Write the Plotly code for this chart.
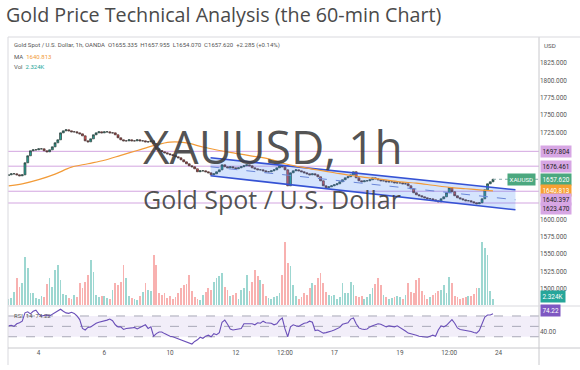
import plotly.graph_objects as go

# ---------------- data ----------------
hours = list(range(2, 357, 2))  # trading hours since Oct 3 00:00 (weekends removed)

close = [
    1664.0, 1665.5, 1665.5, 1664.0, 1662.6, 1664.0, 1681.3, 1691.4, 1698.6, 1700.0,
    1700.0, 1701.4, 1701.4, 1698.6, 1697.1, 1700.0, 1704.3, 1710.1, 1714.4, 1724.4,
    1727.3, 1728.8, 1727.3, 1725.9, 1725.9, 1724.4, 1723.0, 1720.1, 1712.9, 1711.5,
    1715.8, 1721.6, 1724.4, 1725.9, 1724.4, 1725.9, 1725.9, 1724.4, 1724.4, 1721.6,
    1717.3, 1714.4, 1712.9, 1712.9, 1714.4, 1712.9, 1712.9, 1714.4, 1712.9, 1712.9,
    1711.5, 1711.5, 1712.9, 1709.0, 1701.4, 1699.0, 1697.1, 1695.7, 1694.2, 1693.0,
    1692.0, 1690.0, 1688.5, 1685.6, 1682.7, 1679.9, 1677.0, 1675.6, 1672.7, 1668.4,
    1669.8, 1669.8, 1668.4, 1666.9, 1664.0, 1665.5, 1668.4, 1671.2, 1678.4, 1675.6,
    1674.1, 1675.6, 1674.1, 1672.7, 1674.1, 1675.6, 1677.0, 1678.4, 1677.0, 1674.1,
    1672.7, 1671.2, 1671.2, 1669.8, 1668.4, 1668.4, 1669.8, 1671.2, 1674.1, 1677.0,
    1675.6, 1671.2, 1648.2, 1666.9, 1669.8, 1671.2, 1669.8, 1668.4, 1666.9, 1665.5,
    1664.0, 1665.5, 1664.0, 1661.2, 1655.4, 1648.2, 1645.4, 1646.8, 1648.2, 1649.7,
    1651.1, 1654.0, 1656.9, 1659.7, 1661.2, 1664.0, 1668.4, 1659.7, 1655.4, 1654.0,
    1655.4, 1655.4, 1656.9, 1659.7, 1658.3, 1656.9, 1655.4, 1655.4, 1654.0, 1654.0,
    1654.0, 1652.5, 1652.5, 1652.5, 1651.1, 1651.1, 1648.2, 1643.9, 1638.2, 1635.3,
    1633.9, 1632.4, 1631.0, 1629.5, 1629.5, 1628.1, 1626.7, 1625.2, 1629.5, 1632.4,
    1638.2, 1645.4, 1639.6, 1633.9, 1631.0, 1629.5, 1628.1, 1626.7, 1626.7, 1625.2,
    1623.8, 1622.3, 1623.8, 1629.5, 1642.5, 1651.1, 1654.0, 1657.6,
]
first_open = 1663.0

volume_k = [
    2.4, 2.8, 5.2, 10.8, 7.2, 8.8, 19.2, 14.8, 4.8, 4.8,
    2.8, 2.4, 3.6, 3.2, 8.4, 10.8, 7.2, 14.0, 16.0, 10.0,
    4.4, 4.0, 2.8, 2.4, 4.0, 3.2, 8.8, 6.8, 9.2, 12.0,
    18.0, 13.2, 4.0, 3.2, 3.6, 3.6, 2.8, 2.4, 6.0, 8.8,
    8.0, 9.2, 16.0, 10.8, 3.6, 2.8, 2.4, 2.0, 3.6, 5.2,
    8.8, 6.0, 5.6, 20.0, 16.0, 4.8, 4.0, 4.8, 2.8, 3.6,
    2.4, 3.2, 4.8, 6.8, 8.0, 8.4, 12.0, 5.6, 3.2, 2.4,
    2.0, 4.0, 5.2, 6.8, 6.0, 9.2, 10.8, 11.6, 12.8, 7.2,
    6.0, 3.6, 4.0, 4.8, 2.4, 6.0, 6.8, 12.0, 5.6, 9.2,
    14.0, 11.6, 10.0, 8.4, 3.6, 2.8, 2.4, 3.2, 3.6, 4.8,
    12.0, 25.2, 16.8, 15.6, 8.0, 3.6, 2.4, 3.2, 4.8, 4.0,
    6.8, 8.8, 8.0, 10.8, 12.8, 8.8, 5.2, 4.0, 3.6, 4.0,
    2.4, 3.2, 8.8, 4.8, 4.8, 9.2, 8.0, 3.6, 3.2, 3.6,
    2.4, 3.2, 4.4, 6.8, 8.4, 10.8, 8.0, 4.0, 3.2, 2.4,
    2.8, 3.2, 3.6, 3.2, 2.4, 4.0, 8.8, 5.2, 4.8, 10.0,
    10.8, 5.6, 4.0, 2.4, 3.2, 4.0, 4.8, 5.6, 6.0, 8.0,
    4.8, 11.2, 8.8, 3.6, 3.2, 2.4, 2.8, 3.2, 3.6, 3.6,
    4.4, 6.8, 6.8, 25.2, 22.8, 20.0, 5.6, 2.324,
]

rsi = [
    51, 52, 50, 55, 57, 60, 76, 78, 74, 79,
    81, 74, 70, 71, 72, 70, 73, 76, 79, 83,
    79, 76, 75, 77, 75, 70, 63, 46, 43, 48,
    49, 53, 56, 58, 59, 61, 62, 64, 61, 53,
    49, 49, 44, 46, 46, 47, 48, 45, 48, 51,
    53, 46, 49, 31, 36, 39, 39, 36, 33, 31,
    30, 28, 25, 23, 22, 20, 18, 16, 21, 24,
    29, 27, 31, 33, 30, 36, 34, 38, 58, 62,
    54, 45, 43, 44, 44, 46, 55, 55, 56, 55,
    53, 57, 56, 60, 57, 56, 56, 53, 55, 62,
    66, 45, 30, 49, 53, 51, 50, 53, 56, 57,
    60, 58, 42, 43, 40, 37, 38, 39, 41, 43,
    45, 48, 54, 55, 57, 64, 66, 55, 47, 45,
    44, 45, 49, 51, 53, 55, 54, 52, 49, 51,
    50, 49, 51, 48, 44, 41, 37, 36, 35, 33,
    31, 30, 29, 29, 31, 33, 31, 43, 51, 49,
    52, 58, 63, 56, 47, 44, 43, 43, 42, 40,
    38, 37, 42, 55, 68, 72, 72, 74.22,
]

ma_hours = [2, 12, 24, 36, 48, 60, 72, 84, 96, 108, 120, 132, 144, 156, 168, 180,
            192, 204, 216, 228, 240, 252, 264, 276, 288, 300, 312, 324, 336, 348, 356]
ma_values = [1648, 1651, 1657, 1665, 1675, 1680, 1685, 1692, 1699, 1706, 1711, 1710,
             1704, 1699, 1695, 1691, 1687, 1680, 1675, 1671, 1667, 1663, 1660, 1657,
             1654, 1652, 1649, 1646, 1644, 1642, 1640.813]

channel_hours = [149.6, 372.4]
channel_upper = [1688.5, 1642.5]
channel_lower = [1662.6, 1613.7]

level_lines = [1697.804, 1676.461, 1640.397, 1623.470]
last_price = 1657.620
ma_last = 1640.813
vol_last_text = "2.324K"
rsi_last = 74.22

price_ticks = [1825, 1800, 1775, 1750, 1725, 1600, 1575, 1550, 1525, 1500]
rsi_ticks = [40]
time_tick_hours = [24, 72, 120, 168, 204, 240, 288, 324, 360]
time_tick_labels = ["4", "6", "10", "12", "12:00", "17", "19", "12:00", "24"]

title_text = "Gold Price Technical Analysis (the 60-min Chart)"
symbol_text = "XAUUSD, 1h"
desc_text = "Gold Spot / U.S. Dollar"

# ---------------- derived ----------------
opens = [first_open] + close[:-1]
highs = [max(o, c) for o, c in zip(opens, close)]
lows = [min(o, c) for o, c in zip(opens, close)]
vol_colors = ["rgba(38,166,154,0.45)" if c >= o else "rgba(239,83,80,0.45)"
              for o, c in zip(opens, close)]
channel_mid = [(u + l) / 2 for u, l in zip(channel_upper, channel_lower)]

GRAY = "#555555"
FONT = "Roboto"

fig = go.Figure()

# channel
fig.add_trace(go.Scatter(x=channel_hours, y=channel_lower, mode="lines",
                         line=dict(color="#3552d4", width=1.6), hoverinfo="skip", showlegend=False))
fig.add_trace(go.Scatter(x=channel_hours, y=channel_upper, mode="lines",
                         line=dict(color="#3552d4", width=1.6), fill="tonexty",
                         fillcolor="rgba(66,133,244,0.22)", hoverinfo="skip", showlegend=False))
fig.add_trace(go.Scatter(x=channel_hours, y=channel_mid, mode="lines",
                         line=dict(color="#6a86d8", width=1, dash="dash"), hoverinfo="skip", showlegend=False))

# volume
fig.add_trace(go.Bar(x=hours, y=volume_k, marker=dict(color=vol_colors, line=dict(width=0)),
                     width=1.3, yaxis="y3", showlegend=False, hoverinfo="skip"))

# candles
fig.add_trace(go.Candlestick(x=hours, open=opens, high=highs, low=lows, close=close,
                             increasing=dict(line=dict(color="#2e3a36", width=0.7), fillcolor="#26a69a"),
                             decreasing=dict(line=dict(color="#3a2e2e", width=0.7), fillcolor="#ef5350"),
                             whiskerwidth=0, showlegend=False, hoverinfo="skip"))

# MA
fig.add_trace(go.Scatter(x=ma_hours, y=ma_values, mode="lines",
                         line=dict(color="#f29b38", width=1.2, shape="spline", smoothing=1.0),
                         hoverinfo="skip", showlegend=False))

# RSI
fig.add_trace(go.Scatter(x=hours, y=rsi, mode="lines", yaxis="y2",
                         line=dict(color="#6a4fb8", width=1.1), hoverinfo="skip", showlegend=False))

PH = 310.0  # plot area height in px (38..348)
def py(Y):
    return (348 - Y) / PH

shapes = []
for lv in level_lines:
    shapes.append(dict(type="line", xref="paper", x0=0, x1=1, yref="y", y0=lv, y1=lv,
                       line=dict(color="#d3a5e0", width=1), layer="below"))
shapes.append(dict(type="line", xref="x", x0=hours[-1], x1=389.6, yref="y", y0=last_price, y1=last_price,
                   line=dict(color="#8aa", width=1, dash="dot")))
shapes.append(dict(type="rect", xref="paper", x0=0, x1=1, yref="y2", y0=30, y1=70,
                   fillcolor="rgba(126,87,194,0.10)", line=dict(width=0), layer="below"))
for lv in (70, 50, 30):
    shapes.append(dict(type="line", xref="paper", x0=0, x1=1, yref="y2", y0=lv, y1=lv,
                       line=dict(color="#a9a9b8", width=1, dash="dash"), layer="below"))
frame = "#d9d9de"
shapes += [
    dict(type="line", xref="paper", yref="paper", x0=0, x1=0, y0=py(365), y1=py(37), line=dict(color=frame, width=1)),
    dict(type="line", xref="paper", yref="paper", x0=1, x1=1, y0=py(365), y1=py(37), line=dict(color="#c8c8cc", width=1)),
    dict(type="line", xref="paper", yref="paper", x0=0, x1=(580 - 8) / 531, y0=py(37), y1=py(37), line=dict(color=frame, width=1)),
    dict(type="line", xref="paper", yref="paper", x0=0, x1=(580 - 8) / 531, y0=py(306), y1=py(306), line=dict(color=frame, width=1)),
    dict(type="line", xref="paper", yref="paper", x0=0, x1=(580 - 8) / 531, y0=py(348), y1=py(348), line=dict(color="#c8c8cc", width=1)),
]

ann = []
ann.append(dict(text=title_text, xref="paper", yref="paper", x=0, y=py(15), xanchor="left", yanchor="middle",
                xshift=-4, showarrow=False, font=dict(family="Open Sans", size=19.7, color="#4a4a4a")))
ann.append(dict(text=symbol_text, xref="paper", yref="paper", x=(273 - 8) / 531, y=py(146), showarrow=False,
                font=dict(family="Open Sans", size=46, color="rgba(60,60,60,0.88)")))
ann.append(dict(text=desc_text, xref="paper", yref="paper", x=(272 - 8) / 531, y=py(199), showarrow=False,
                font=dict(family="Open Sans", size=25, color="rgba(60,60,60,0.88)")))
ann.append(dict(text="Gold Spot / U.S. Dollar, 1h, OANDA &nbsp;O1655.335 &nbsp;H1657.955 &nbsp;L1654.070 &nbsp;C1657.620 &nbsp;+2.285 (+0.14%)",
                xref="paper", yref="paper", x=0, y=py(45), xanchor="left", yanchor="middle", xshift=4,
                showarrow=False, font=dict(family=FONT, size=6, color=GRAY)))
ann.append(dict(text=f"MA &nbsp;<span style='color:#f29b38'>{ma_last:.3f}</span>",
                xref="paper", yref="paper", x=0, y=py(56), xanchor="left", yanchor="middle", xshift=4,
                showarrow=False, font=dict(family=FONT, size=6, color=GRAY)))
ann.append(dict(text=f"Vol &nbsp;<span style='color:#26a69a'>{vol_last_text}</span>",
                xref="paper", yref="paper", x=0, y=py(66), xanchor="left", yanchor="middle", xshift=4,
                showarrow=False, font=dict(family=FONT, size=6, color=GRAY)))
ann.append(dict(text="RSI &nbsp;14 &nbsp;74.22", xref="paper", yref="paper", x=0, y=py(315),
                xanchor="left", yanchor="middle", xshift=4, showarrow=False,
                font=dict(family=FONT, size=6, color=GRAY)))
ann.append(dict(text="USD", xref="paper", yref="paper", x=1, y=py(46), xanchor="left", yanchor="middle",
                xshift=3, showarrow=False, font=dict(family=FONT, size=6.2, color=GRAY)))

def axis_label(val, text, bg, fg, yshift=0, yref="y"):
    return dict(text=text, xref="paper", x=1, xanchor="left", xshift=1, yref=yref, y=val,
                yanchor="middle", yshift=yshift, showarrow=False, bgcolor=bg, borderpad=1.5,
                font=dict(family=FONT, size=6.4, color=fg))

ann.append(axis_label(level_lines[0], f"{level_lines[0]:.3f}", "#d7a6e4", "#222"))
ann.append(axis_label(level_lines[1], f"{level_lines[1]:.3f}", "#d7a6e4", "#222"))
ann.append(axis_label(last_price, f"{last_price:.3f}", "#4ba87f", "#ffffff"))
ann.append(axis_label(ma_last, f"{ma_last:.3f}", "#f7a032", "#ffffff"))
ann.append(axis_label(level_lines[2], f"{level_lines[2]:.3f}", "#d7a6e4", "#222", yshift=-8))
ann.append(axis_label(level_lines[3], f"{level_lines[3]:.3f}", "#d7a6e4", "#222", yshift=-5))
ann.append(dict(text="XAUUSD", xref="paper", x=1, xanchor="right", xshift=-3, yref="y", y=last_price,
                yanchor="middle", showarrow=False, bgcolor="#4ba87f", borderpad=1.5,
                font=dict(family=FONT, size=6.2, color="#ffffff")))
ann.append(dict(text=vol_last_text, xref="paper", x=1, xanchor="left", xshift=1, yref="y3", y=volume_k[-1],
                yanchor="middle", yshift=3, showarrow=False, bgcolor="#26a69a", borderpad=1.5,
                font=dict(family=FONT, size=6.4, color="#ffffff")))
ann.append(axis_label(rsi_last, f"{rsi_last:.2f}", "#7e57c2", "#ffffff", yref="y2", yshift=3))

fig.update_layout(
    width=580, height=370,
    margin=dict(l=8, r=41, t=38, b=22),
    paper_bgcolor="white", plot_bgcolor="white",
    showlegend=False, bargap=0, boxgap=0,
    xaxis=dict(domain=[0, 1], range=[1.6, 389.6], anchor="y2", tickmode="array",
               tickvals=time_tick_hours, ticktext=time_tick_labels,
               tickfont=dict(family=FONT, size=6.4, color=GRAY), showgrid=False, zeroline=False,
               showline=False, ticks="", rangeslider=dict(visible=False), fixedrange=True),
    yaxis=dict(domain=[py(305), 1], range=[1476.7, 1860.9], side="right", anchor="x",
               tickmode="array", tickvals=price_ticks, ticktext=[f"{v:.3f}" for v in price_ticks],
               tickfont=dict(family=FONT, size=6.4, color=GRAY), showgrid=False, zeroline=False,
               showline=False, ticks=""),
    yaxis2=dict(domain=[0, py(307)], range=[8.3, 87.3], side="right", anchor="x",
                tickmode="array", tickvals=rsi_ticks, ticktext=[f"{v:.2f}" for v in rsi_ticks],
                tickfont=dict(family=FONT, size=6.4, color=GRAY), showgrid=False, zeroline=False,
                showline=False, ticks=""),
    yaxis3=dict(overlaying="y", range=[0, 106.8], visible=False),
    shapes=shapes, annotations=ann,
)

fig.write_html("out.html", config={"displayModeBar": False},
               post_script="document.body.style.margin='0px';")
